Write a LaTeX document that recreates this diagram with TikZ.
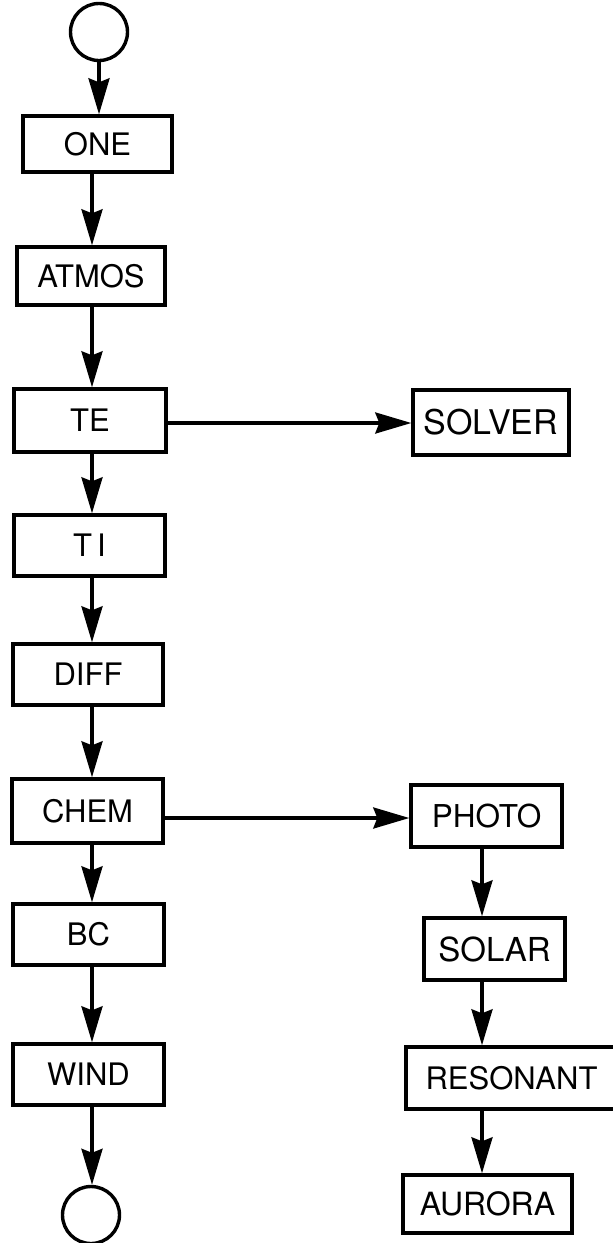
\documentclass[tikz,border=0pt]{standalone}
\usepackage{fontspec}
\setmainfont{TeX Gyre Heros}
\usetikzlibrary{arrows.meta}
\newcommand{\fs}[1]{\fontsize{#1}{#1}\selectfont}
\begin{document}
\begin{tikzpicture}[x=1pt,y=-1pt, line width=3.4pt,
  box/.style={draw, rectangle, inner sep=0pt, font=\fs{31}},
  term/.style={draw, circle, minimum size=57pt, inner sep=0pt},
  arr/.style={-{Stealth[length=36pt,width=21pt,inset=4pt]}}]
\useasboundingbox (0,0) rectangle (613,1243);
% terminals
\node[term] (start) at (99,32) {};
\node[term] (stop) at (91,1215) {};
% left column
\node[box, minimum width=149pt, minimum height=56pt] (one) at (97.5,144) {ONE};
\node[box, minimum width=148pt, minimum height=58pt] (atmos) at (91,276) {ATMOS};
\node[box, minimum width=152pt, minimum height=63pt] (te) at (90,420.5) {TE};
\node[box, minimum width=151pt, minimum height=61pt] (ti) at (89.5,545.5) {T\,I};
\node[box, minimum width=150pt, minimum height=61pt] (diff) at (88,674.5) {DIFF};
\node[box, minimum width=151pt, minimum height=64pt] (chem) at (87.5,811) {CHEM};
\node[box, minimum width=151pt, minimum height=61pt] (bc) at (88.5,934.5) {BC};
\node[box, minimum width=151pt, minimum height=61pt] (wind) at (88.5,1074.5) {WIND};
% right column
\node[box, font=\fs{34}, minimum width=156pt, minimum height=65pt] (solver) at (491,422.5) {SOLVER};
\node[box, font=\fs{31.5}, minimum width=151pt, minimum height=62pt] (photo) at (486.5,816) {PHOTO};
\node[box, font=\fs{33}, minimum width=141pt, minimum height=62pt] (solar) at (494.5,949) {SOLAR};
\node[box, font=\fs{31}, minimum width=211pt, minimum height=62pt] (resonant) at (511.5,1078) {RESONANT};
\node[box, font=\fs{32}, minimum width=169pt, minimum height=58pt] (aurora) at (487.5,1204) {AURORA};
% guide coordinates
\coordinate (lx) at (92,0);
\coordinate (rx) at (482,0);
\coordinate (h1) at (0,423);
\coordinate (h2) at (0,818);
% connectors
\draw[arr] (start.south) -- (start.south |- one.north);
\draw[arr] (one.south -| lx) -- (atmos.north -| lx);
\draw[arr] (atmos.south -| lx) -- (te.north -| lx);
\draw[arr] (te.south -| lx) -- (ti.north -| lx);
\draw[arr] (ti.south -| lx) -- (diff.north -| lx);
\draw[arr] (diff.south -| lx) -- (chem.north -| lx);
\draw[arr] (chem.south -| lx) -- (bc.north -| lx);
\draw[arr] (bc.south -| lx) -- (wind.north -| lx);
\draw[arr] (wind.south -| lx) -- (stop.north -| lx);
\draw[arr] (te.east |- h1) -- (solver.west |- h1);
\draw[arr] (chem.east |- h2) -- (photo.west |- h2);
\draw[arr] (photo.south -| rx) -- (solar.north -| rx);
\draw[arr] (solar.south -| rx) -- (resonant.north -| rx);
\draw[arr] (resonant.south -| rx) -- (aurora.north -| rx);
\end{tikzpicture}
\end{document}
